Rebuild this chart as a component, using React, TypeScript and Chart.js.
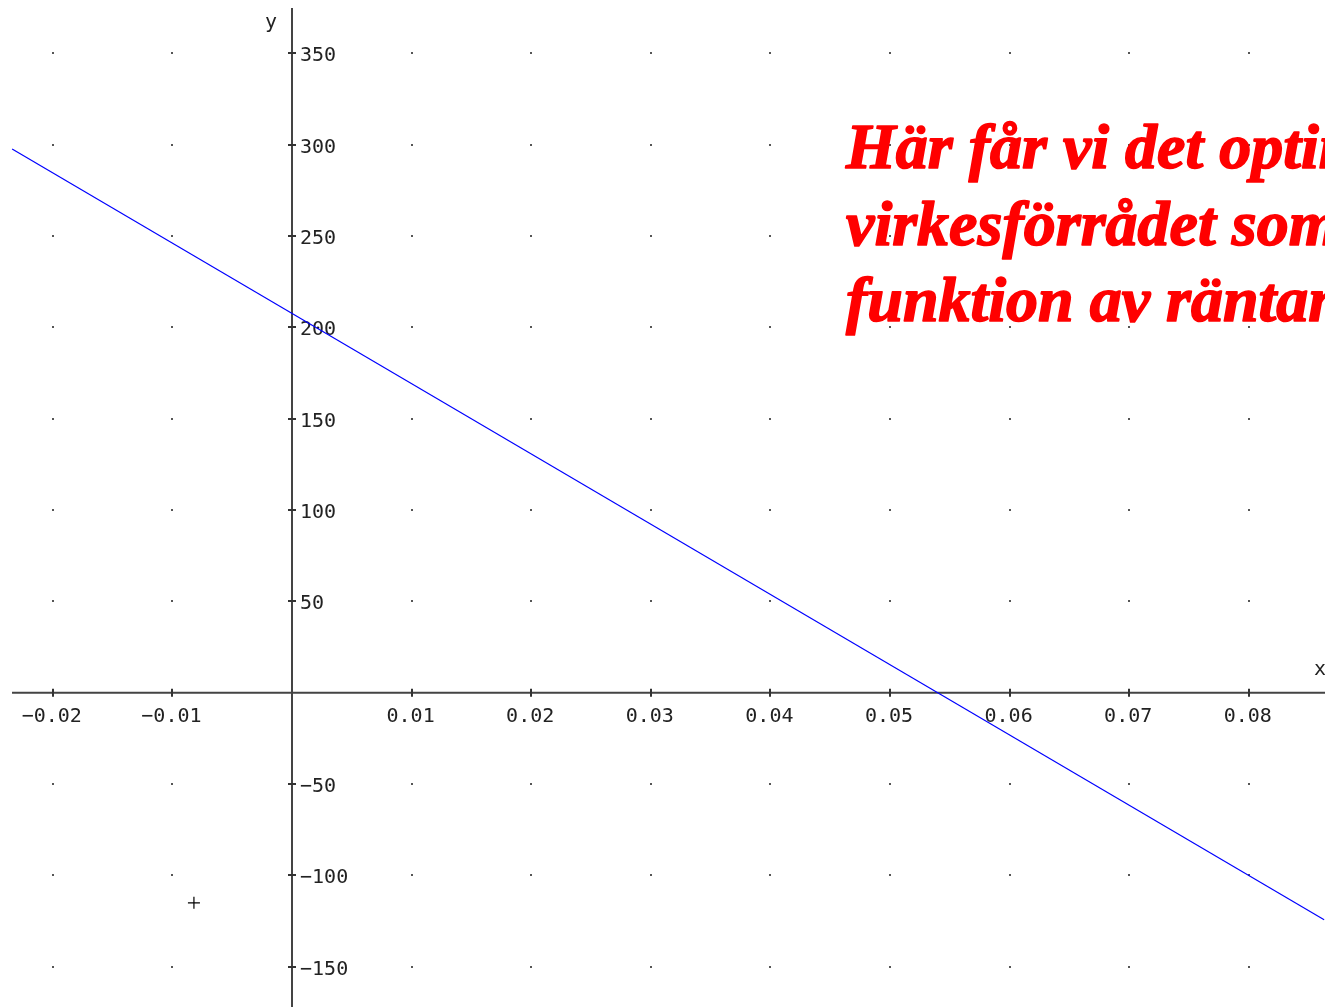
import { useEffect, useRef } from "react";
import { Chart, registerables } from "chart.js";

Chart.register(...registerables);

// ---- data ----
const xTickValues = [-0.02, -0.01, 0.01, 0.02, 0.03, 0.04, 0.05, 0.06, 0.07, 0.08];
const xTickLabels = ["\u22120.02", "\u22120.01", "0.01", "0.02", "0.03", "0.04", "0.05", "0.06", "0.07", "0.08"];
const yTickValues = [-150, -100, -50, 50, 100, 150, 200, 250, 300, 350];
const yTickLabels = ["\u2212150", "\u2212100", "\u221250", "50", "100", "150", "200", "250", "300", "350"];

const lineX = [-0.0234, 0.0863];
const lineY = [297.6, -124.3];

const markerX = [-0.0082];
const markerY = [-115];

const noteLines = ["Här får vi det optimala", "virkesförrådet som", "funktion av räntan"];

const xRange = [-0.024415, 0.086371];
const yRange = [-172.05, 379.2];
const xAxisStart = -0.02341;
const yAxisTop = 374.8;

const TICK_FONT = '20px "DejaVu Sans Mono", monospace';

const axesPlugin = {
  id: "originAxes",
  beforeDatasetsDraw(chart: any) {
    const { ctx, chartArea, scales } = chart;
    const xs = scales.x;
    const ys = scales.y;
    const x0 = xs.getPixelForValue(0);
    const y0 = ys.getPixelForValue(0);
    ctx.save();

    // grid dots
    ctx.fillStyle = "#555";
    for (const xv of xTickValues) {
      for (const yv of yTickValues) {
        const px = Math.round(xs.getPixelForValue(xv));
        const py = Math.round(ys.getPixelForValue(yv));
        ctx.fillRect(px - 1, py - 1, 2, 2);
      }
    }

    // axes lines
    ctx.strokeStyle = "#444";
    ctx.lineWidth = 2;
    ctx.beginPath();
    ctx.moveTo(xs.getPixelForValue(xAxisStart), y0);
    ctx.lineTo(chartArea.right, y0);
    ctx.moveTo(x0, ys.getPixelForValue(yAxisTop));
    ctx.lineTo(x0, chartArea.bottom);
    ctx.stroke();

    // tick marks
    ctx.strokeStyle = "#333";
    ctx.lineWidth = 2;
    ctx.beginPath();
    for (const xv of xTickValues) {
      const px = Math.round(xs.getPixelForValue(xv));
      ctx.moveTo(px, y0 - 4);
      ctx.lineTo(px, y0 + 4);
    }
    for (const yv of yTickValues) {
      const py = Math.round(ys.getPixelForValue(yv));
      ctx.moveTo(x0 - 4, py);
      ctx.lineTo(x0 + 4, py);
    }
    ctx.stroke();

    // tick labels
    ctx.fillStyle = "#222";
    ctx.font = TICK_FONT;
    ctx.textBaseline = "alphabetic";
    ctx.textAlign = "center";
    xTickValues.forEach((xv, i) => {
      ctx.fillText(xTickLabels[i], xs.getPixelForValue(xv) - 1, y0 + 29);
    });
    ctx.textAlign = "left";
    yTickValues.forEach((yv, i) => {
      ctx.fillText(yTickLabels[i], x0 + 8, ys.getPixelForValue(yv) + 8);
    });

    // axis names
    ctx.fillText("x", chartArea.right - 11, y0 - 18);
    ctx.fillText("y", x0 - 27, 28);

    ctx.restore();
  },
  afterDatasetsDraw(chart: any) {
    const { ctx } = chart;
    ctx.save();
    ctx.fillStyle = "#ff0000";
    ctx.strokeStyle = "#ff0000";
    ctx.lineWidth = 1.6;
    ctx.lineJoin = "round";
    ctx.font = 'italic bold 64px "Liberation Serif", "Times New Roman", serif';
    ctx.textAlign = "left";
    ctx.textBaseline = "alphabetic";
    const baselines = [168, 245, 321];
    noteLines.forEach((t, i) => {
      ctx.fillText(t, 846, baselines[i]);
      ctx.strokeText(t, 846, baselines[i]);
    });
    ctx.restore();
  },
};

export default function App() {
  const canvasRef = useRef<HTMLCanvasElement | null>(null);

  useEffect(() => {
    document.body.style.margin = "0";
    const canvas = canvasRef.current;
    if (!canvas) return;
    const chart = new Chart(canvas, {
      type: "scatter",
      data: {
        datasets: [
          {
            data: lineX.map((x, i) => ({ x, y: lineY[i] })),
            showLine: true,
            borderColor: "#0000ff",
            borderWidth: 1.2,
            pointRadius: 0,
            pointHoverRadius: 0,
          },
          {
            data: markerX.map((x, i) => ({ x, y: markerY[i] })),
            pointStyle: "cross",
            pointRadius: 6,
            borderColor: "#000",
            backgroundColor: "#000",
            borderWidth: 1.2,
          },
        ],
      },
      options: {
        animation: false,
        responsive: false,
        maintainAspectRatio: false,
        devicePixelRatio: 1,
        layout: { padding: 0, autoPadding: false },
        plugins: { legend: { display: false }, tooltip: { enabled: false } },
        events: [],
        scales: {
          x: { type: "linear", min: xRange[0], max: xRange[1], display: false },
          y: { type: "linear", min: yRange[0], max: yRange[1], display: false },
        },
      },
      plugins: [axesPlugin],
    });
    return () => chart.destroy();
  }, []);

  return (
    <div style={{ width: 1325, height: 1007, background: "#fff" }}>
      <canvas ref={canvasRef} width={1325} height={1007} style={{ display: "block" }} />
    </div>
  );
}
